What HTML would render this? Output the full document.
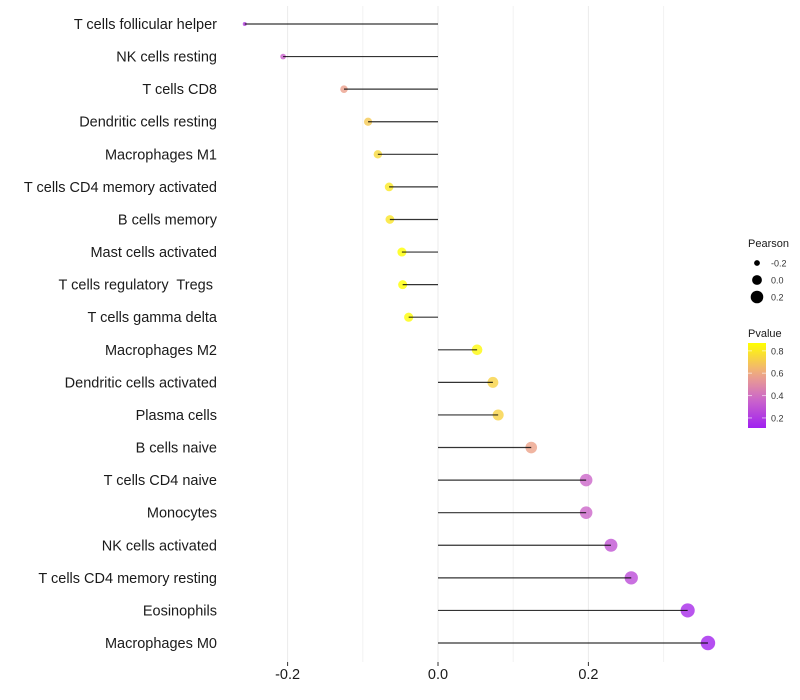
<!DOCTYPE html>
<html><head><meta charset="utf-8"><style>
body{margin:0;background:#fff;}
svg{display:block;font-family:"Liberation Sans",sans-serif;}
text{white-space:pre;}
</style></head><body>
<svg id="c" width="800" height="700"></svg>
<script>
const categories=["T cells follicular helper","NK cells resting","T cells CD8","Dendritic cells resting","Macrophages M1","T cells CD4 memory activated","B cells memory","Mast cells activated","T cells regulatory  Tregs ","T cells gamma delta","Macrophages M2","Dendritic cells activated","Plasma cells","B cells naive","T cells CD4 naive","Monocytes","NK cells activated","T cells CD4 memory resting","Eosinophils","Macrophages M0"];
const pearson=[-0.257,-0.206,-0.125,-0.093,-0.080,-0.065,-0.064,-0.048,-0.047,-0.039,0.052,0.073,0.080,0.124,0.197,0.197,0.230,0.257,0.332,0.359];
const pvalue=[0.22,0.35,0.57,0.7,0.75,0.8,0.79,0.87,0.87,0.86,0.85,0.73,0.73,0.58,0.37,0.37,0.3,0.27,0.15,0.12];
const xTicks=[-0.2,0.0,0.2];
const xTickLabels=["-0.2","0.0","0.2"];
const minorTicks=[-0.1,0.1,0.3];
const sizeLegend=[-0.2,0.0,0.2];
const colorLegend=[0.8,0.6,0.4,0.2];

const NS="http://www.w3.org/2000/svg";
const svg=document.getElementById('c');
function mk(t,a,p){const e=document.createElementNS(NS,t);for(const k in a)e.setAttribute(k,a[k]);(p||svg).appendChild(e);return e;}
const x=v=>438+v*752;
const y=i=>24+i*(643-24)/19;
const r=v=>Math.sqrt(Math.max(1,4+78*(v+0.257)));
const pmin=0.11,pmax=0.87;
function col(p){
  const t=Math.max(0,Math.min(1,(p-pmin)/(pmax-pmin)));
  const stops=[[0,[160,32,240]],[0.35,[205,105,200]],[0.65,[240,170,130]],[1,[255,255,0]]];
  for(let i=1;i<stops.length;i++){if(t<=stops[i][0]){const a=stops[i-1],b=stops[i];const f=(t-a[0])/(b[0]-a[0]);const c=a[1].map((v,j)=>Math.round(v+(b[1][j]-v)*f));return `rgb(${c})`;}}
  return 'rgb(255,255,0)';
}
const g=mk('g',{});


minorTicks.forEach(v=>{mk('line',{x1:x(v),x2:x(v),y1:6,y2:662,stroke:'#f2f2f2','stroke-width':1},g);});
xTicks.forEach(v=>{mk('line',{x1:x(v),x2:x(v),y1:6,y2:662,stroke:'#ebebeb','stroke-width':1},g);});
categories.forEach((c,i)=>{
  const yy=y(i);
  const cir=mk('circle',{cx:x(pearson[i]),cy:yy,r:r(pearson[i]),fill:col(pvalue[i]),'fill-opacity':0.8});
  
  
  const ln=mk('line',{x1:x(0),x2:x(pearson[i]),y1:yy,y2:yy,stroke:'#000','stroke-opacity':0.8,'stroke-width':1.2});
  
  
  const t=mk('text',{x:217,y:yy+5,'text-anchor':'end','font-size':14.5,fill:'#1a1a1a'});
  t.textContent=c;
  
  
});
xTicks.forEach((v,i)=>{
  mk('line',{x1:x(v),x2:x(v),y1:662,y2:666,stroke:'#333'});
  const t=mk('text',{x:x(v),y:679,'text-anchor':'middle','font-size':14.5,fill:'#1a1a1a'});
  t.textContent=xTickLabels[i];
  
  
});
const lg=mk('g',{});


let tt=mk('text',{x:748,y:247,'font-size':11,fill:'#1a1a1a'},lg);tt.textContent='Pearson';
sizeLegend.forEach((v,i)=>{
  const yy=263+i*17;
  mk('circle',{cx:757,cy:yy,r:r(v),fill:'#000'},lg);
  const t=mk('text',{x:771,y:yy+3.5,'font-size':9,fill:'#333'},lg);t.textContent=v.toFixed(1);
});
tt=mk('text',{x:748,y:337,'font-size':11,fill:'#1a1a1a'},lg);tt.textContent='Pvalue';
const defs=mk('defs',{});
const grad=mk('linearGradient',{id:'gr',x1:0,y1:1,x2:0,y2:0},defs);
for(let k=0;k<=10;k++){mk('stop',{offset:k/10,'stop-color':col(pmin+(pmax-pmin)*k/10)},grad);}
mk('rect',{x:748,y:343,width:18,height:85,fill:'url(#gr)'},lg);
colorLegend.forEach(v=>{
  const yy=343+(pmax-v)/(pmax-pmin)*85;
  mk('line',{x1:748,x2:752,y1:yy,y2:yy,stroke:'#fff','stroke-opacity':0.6},lg);
  mk('line',{x1:762,x2:766,y1:yy,y2:yy,stroke:'#fff','stroke-opacity':0.6},lg);
  const t=mk('text',{x:771,y:yy+3.5,'font-size':9,fill:'#333'},lg);t.textContent=v.toFixed(1);
});
</script>
</body></html>
